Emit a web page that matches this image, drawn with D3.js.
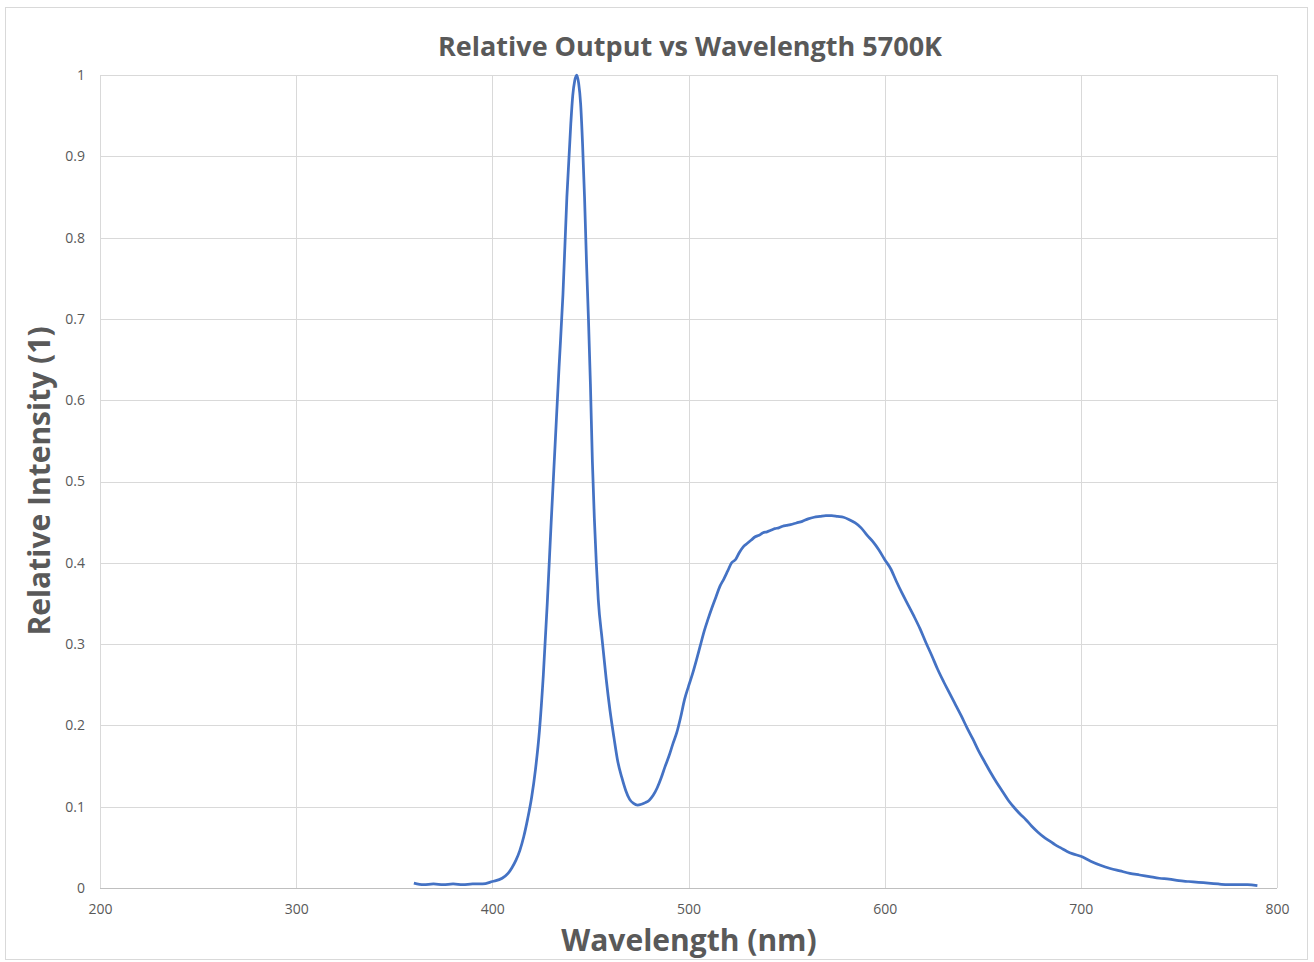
<!DOCTYPE html>
<html>
<head>
  <meta charset="utf-8">
  <title>Relative Output vs Wavelength 5700K</title>
  <script src="https://d3js.org/d3.v7.min.js"></script>
  <style>
    body { margin: 0; background: #fff; }
    .grid line { stroke: #d9d9d9; shape-rendering: crispEdges; }
    .axis text { font-family: "Open Sans", sans-serif; font-size: 14px; fill: #595959; }
    .axis path, .axis line { stroke: none; }
  </style>
</head>
<body>
<script>
  // chart size
  var w = 1314;
  var h = 962;
  var margin = {left: 100, right: 37, top: 75, bottom: 74};

  // spectrum
  var wavelength = [360,365,370,375,380,385,390,395,400,405,408,410,412,414,416,418,420,422,424,426,428,430,432,434,436,438,440,441,442,443,444,445,446,447,448,449,450,451,452,453,454,456,458,460,462,464,466,468,470,472,474,476,478,480,482,484,486,488,490,492,494,496,498,500,502,504,506,508,510,512,514,516,518,520,522,524,526,528,530,532,534,536,538,540,542,544,546,548,550,552,555,558,561,564,567,570,573,576,579,582,585,588,591,594,597,600,603,606,609,612,615,618,621,624,627,630,633,636,639,642,645,648,651,654,657,660,663,666,669,672,675,678,681,684,687,690,693,696,700,705,710,715,720,725,730,735,740,745,750,755,760,765,770,775,780,785,790];
  var intensity = [0.006,0.004,0.005,0.004,0.005,0.004,0.005,0.005,0.008,0.012,0.018,0.025,0.034,0.046,0.063,0.085,0.111,0.146,0.193,0.262,0.350,0.450,0.545,0.640,0.730,0.850,0.940,0.975,0.993,1.000,0.990,0.965,0.915,0.850,0.770,0.700,0.620,0.525,0.455,0.400,0.355,0.305,0.258,0.218,0.185,0.155,0.136,0.120,0.109,0.104,0.102,0.103,0.105,0.108,0.114,0.123,0.135,0.149,0.162,0.177,0.191,0.210,0.232,0.248,0.263,0.280,0.298,0.316,0.331,0.345,0.358,0.371,0.380,0.390,0.400,0.404,0.413,0.420,0.424,0.428,0.432,0.434,0.437,0.438,0.440,0.442,0.443,0.445,0.446,0.447,0.449,0.451,0.454,0.456,0.457,0.458,0.458,0.457,0.456,0.453,0.449,0.443,0.434,0.426,0.416,0.404,0.393,0.377,0.362,0.348,0.334,0.319,0.302,0.286,0.269,0.254,0.240,0.226,0.212,0.197,0.183,0.168,0.155,0.142,0.130,0.119,0.108,0.099,0.091,0.084,0.076,0.069,0.063,0.058,0.053,0.049,0.045,0.042,0.039,0.033,0.028,0.024,0.021,0.018,0.016,0.014,0.012,0.011,0.009,0.008,0.007,0.006,0.005,0.004,0.004,0.004,0.003];

  var xTicks = [200,300,400,500,600,700,800];
  var yTicks = [0,0.1,0.2,0.3,0.4,0.5,0.6,0.7,0.8,0.9,1];

  var svg = d3.select("body")
    .append("svg")
    .attr("width", w)
    .attr("height", h);

  // chart border
  svg.append("rect")
    .attr("x", 5.5).attr("y", 7.5)
    .attr("width", 1302).attr("height", 952)
    .attr("fill", "#fff")
    .attr("stroke", "#d9d9d9");

  var xScale = d3.scaleLinear()
    .domain([200, 800])
    .range([margin.left, w - margin.right]);

  var yScale = d3.scaleLinear()
    .domain([0, 1])
    .range([h - margin.bottom, margin.top]);

  // gridlines
  var grid = svg.append("g").attr("class", "grid");
  grid.selectAll(".gy")
    .data(yTicks)
    .enter()
    .append("line")
    .attr("x1", xScale(200)).attr("x2", xScale(800))
    .attr("y1", function(d){ return Math.round(yScale(d)) + 0.5; })
    .attr("y2", function(d){ return Math.round(yScale(d)) + 0.5; });
  grid.selectAll(".gx")
    .data(xTicks)
    .enter()
    .append("line")
    .attr("y1", yScale(0)).attr("y2", yScale(1))
    .attr("x1", function(d){ return Math.round(xScale(d)) + 0.5; })
    .attr("x2", function(d){ return Math.round(xScale(d)) + 0.5; });

  // bottom axis line a bit darker
  svg.append("line")
    .attr("x1", xScale(200)).attr("x2", xScale(800))
    .attr("y1", Math.round(yScale(0)) + 0.5).attr("y2", Math.round(yScale(0)) + 0.5)
    .attr("stroke", "#bfbfbf")
    .attr("shape-rendering", "crispEdges");

  var xAxis = d3.axisBottom(xScale)
    .tickValues(xTicks)
    .tickSize(0)
    .tickPadding(16)
    .tickFormat(d3.format("d"));

  var yAxis = d3.axisLeft(yScale)
    .tickValues(yTicks)
    .tickSize(0)
    .tickPadding(15)
    .tickFormat(function(d){ return d3.format("")(+d.toFixed(1)); });

  svg.append("g")
    .attr("class", "axis")
    .attr("transform", "translate(0," + yScale(0) + ")")
    .call(xAxis);

  svg.append("g")
    .attr("class", "axis")
    .attr("transform", "translate(" + margin.left + ",0)")
    .call(yAxis);

  // spectrum line
  var pts = wavelength.map(function(d, i){ return [d, intensity[i]]; });
  var line = d3.line()
    .x(function(d){ return xScale(d[0]); })
    .y(function(d){ return yScale(d[1]); })
    .curve(d3.curveMonotoneX);

  svg.append("path")
    .datum(pts)
    .attr("d", line)
    .attr("fill", "none")
    .attr("stroke", "#4472c4")
    .attr("stroke-width", 2.75)
    .attr("stroke-linejoin", "round");

  // titles
  svg.append("text")
    .attr("x", 690).attr("y", 56)
    .attr("text-anchor", "middle")
    .attr("font-family", "Open Sans, sans-serif")
    .attr("font-weight", "bold")
    .attr("font-size", "27px")
    .attr("fill", "#595959")
    .text("Relative Output vs Wavelength 5700K");

  svg.append("text")
    .attr("x", 689).attr("y", 951)
    .attr("text-anchor", "middle")
    .attr("font-family", "Open Sans, sans-serif")
    .attr("font-weight", "bold")
    .attr("font-size", "30px")
    .attr("fill", "#595959")
    .text("Wavelength (nm)");

  svg.append("text")
    .attr("transform", "translate(50,481) rotate(-90)")
    .attr("text-anchor", "middle")
    .attr("font-family", "Open Sans, sans-serif")
    .attr("font-weight", "bold")
    .attr("font-size", "30px")
    .attr("fill", "#595959")
    .text("Relative Intensity (1)");
</script>
</body>
</html>
